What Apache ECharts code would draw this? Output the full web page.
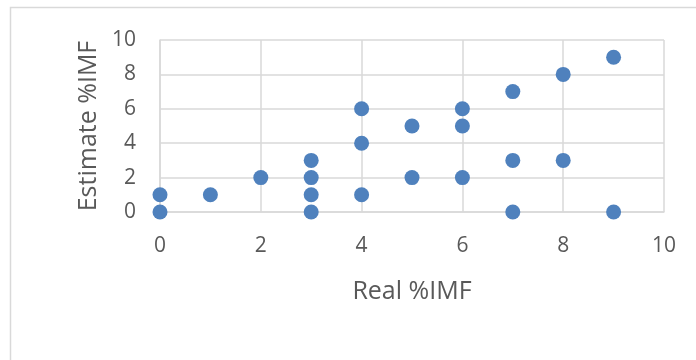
<!DOCTYPE html>
<html>
<head>
<meta charset="utf-8">
<script src="https://cdn.jsdelivr.net/npm/echarts@6/dist/echarts.min.js"></script>
<style>html,body{margin:0;padding:0;background:#fff}#c{width:696px;height:360px}</style>
</head>
<body>
<div id="c"></div>
<script>
const realIMF =     [0, 0, 1, 2, 3, 3, 3, 3, 4, 4, 4, 5, 5, 6, 6, 6, 7, 7, 7, 8, 8, 9, 9];
const estimateIMF = [0, 1, 1, 2, 3, 2, 1, 0, 6, 4, 1, 5, 2, 6, 5, 2, 7, 3, 0, 8, 3, 9, 0];
const xTicks = [0, 2, 4, 6, 8, 10];
const yTicks = [0, 2, 4, 6, 8, 10];
const xName = 'Real %IMF';
const yName = 'Estimate %IMF';

const points = realIMF.map((x, i) => [x, estimateIMF[i]]);
const font = '"Open Sans", "Noto Sans", sans-serif';
const gridColor = '#D9D9D9';
const textColor = '#595959';

const chart = echarts.init(document.getElementById('c'), null, {renderer: 'canvas'});
chart.setOption({
  animation: false,
  graphic: [{
    type: 'rect', shape: {x: 10.5, y: 7.5, width: 720, height: 400},
    style: {fill: 'none', stroke: gridColor, lineWidth: 1.5}, silent: true, z: -1
  }],
  grid: {left: 160, right: 32, top: 40, bottom: 148},
  xAxis: {
    type: 'value', min: xTicks[0], max: xTicks[xTicks.length - 1], interval: 2,
    name: xName, nameLocation: 'middle', nameGap: 67,
    nameTextStyle: {fontFamily: font, fontSize: 25, color: textColor},
    axisLine: {show: true, lineStyle: {color: gridColor, width: 1.5}},
    axisTick: {show: false},
    axisLabel: {fontFamily: font, fontSize: 21, color: textColor, margin: 24},
    splitLine: {show: true, lineStyle: {color: gridColor, width: 1.5}}
  },
  yAxis: {
    type: 'value', min: yTicks[0], max: yTicks[yTicks.length - 1], interval: 2,
    name: yName, nameLocation: 'middle', nameGap: 56, nameRotate: 90,
    nameTextStyle: {fontFamily: font, fontSize: 25, color: textColor},
    axisLine: {show: true, lineStyle: {color: gridColor, width: 1.5}},
    axisTick: {show: false},
    axisLabel: {fontFamily: font, fontSize: 21, color: textColor, margin: 24},
    splitLine: {show: true, lineStyle: {color: gridColor, width: 1.5}}
  },
  series: [{
    type: 'scatter', data: points, symbolSize: 15,
    itemStyle: {color: '#4F81BD', opacity: 1}
  }]
});
</script>
</body>
</html>
